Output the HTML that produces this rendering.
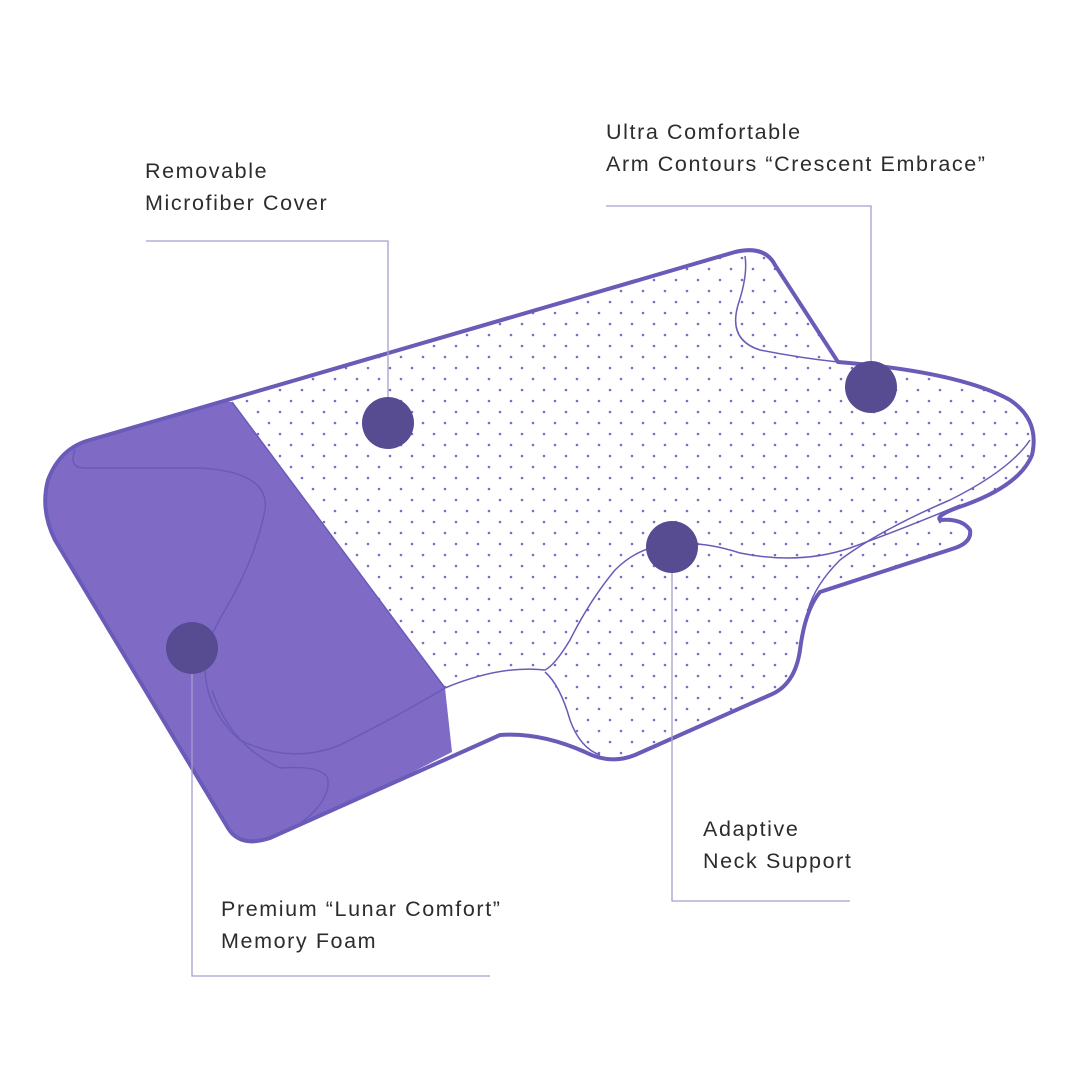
<!DOCTYPE html>
<html><head><meta charset="utf-8"><style>
body{margin:0;background:#fff;}
svg{display:block}
text{font-family:"Liberation Sans",sans-serif;font-size:21.5px;fill:#2c2c2c;letter-spacing:1.6px}
</style></head><body>
<svg width="1080" height="1080" viewBox="0 0 1080 1080">
<defs>
<pattern id="dots" width="22" height="22" patternUnits="userSpaceOnUse">
<circle cx="5" cy="5" r="1.3" fill="#7f6bc6"/>
<circle cx="16" cy="16" r="1.3" fill="#7f6bc6"/>
</pattern>
<clipPath id="body">
<path id="outline" d="M90,440 L735,252 Q765,245 775,265 L838,362 Q960,372 1010,400 Q1040,420 1032,455 Q1020,485 965,505 Q935,515 940,520 Q962,518 970,530 Q972,542 955,548 L820,592 Q805,610 800,650 Q795,685 770,695 L635,755 Q610,765 585,752 Q540,732 500,735 L270,838 Q240,848 228,828 L55,540 Q40,510 48,480 Q60,448 90,440 Z"/>
</clipPath>
</defs>
<g clip-path="url(#body)">
<rect width="1080" height="1080" fill="url(#dots)"/>
<path d="M445,688 Q500,665 545,672 Q560,690 575,730 L600,770 L430,780 Z" fill="#fff"/>
<path d="M232,402 L445,688 L452,752 L260,850 L0,850 L0,380 Z" fill="#7f6bc6"/>
</g>
<g fill="none" stroke="#6a5bb8" stroke-width="1.5">
<path d="M745,256 Q748,275 738,305 Q728,340 760,350 Q800,358 838,362"/>
<path d="M1030,440 Q1010,470 950,500 Q880,530 840,560 Q815,585 808,610"/>
<path d="M672,545 Q700,540 740,553 Q800,565 850,548 Q900,530 960,505"/>
<path d="M672,545 Q640,545 615,570 Q590,600 570,640 Q555,665 545,670 Q500,665 445,688"/>
<path d="M545,672 Q560,685 570,720 Q580,748 600,755"/>
<path d="M75,450 Q68,468 85,468 L200,468 Q270,472 265,510 Q255,560 225,610 Q205,645 200,665"/>
<path d="M205,665 Q205,710 240,740 Q290,765 340,745 Q400,715 445,688"/>
<path d="M212,690 Q230,745 280,768 Q325,765 328,780 Q330,805 290,830"/>
</g>
<use href="#outline" fill="none" stroke="#6a5bb8" stroke-width="4"/>
<line x1="232" y1="402" x2="445" y2="688" stroke="#6a5bb8" stroke-width="1.5"/>
<g fill="none" stroke="#a89fd0" stroke-width="1.3">
<polyline points="146,241 388,241 388,423"/>
<polyline points="606,206 871,206 871,387"/>
<polyline points="672,547 672,901 850,901"/>
<polyline points="192,647 192,976 490,976"/>
</g>
<g fill="#574b92">
<circle cx="388" cy="423" r="26"/>
<circle cx="871" cy="387" r="26"/>
<circle cx="672" cy="547" r="26"/>
<circle cx="192" cy="648" r="26"/>
</g>
<text x="145" y="178">Removable</text>
<text x="145" y="210">Microfiber Cover</text>
<text x="606" y="139">Ultra Comfortable</text>
<text x="606" y="171">Arm Contours “Crescent Embrace”</text>
<text x="703" y="836">Adaptive</text>
<text x="703" y="868">Neck Support</text>
<text x="221" y="916">Premium “Lunar Comfort”</text>
<text x="221" y="948">Memory Foam</text>
</svg>
</body></html>
